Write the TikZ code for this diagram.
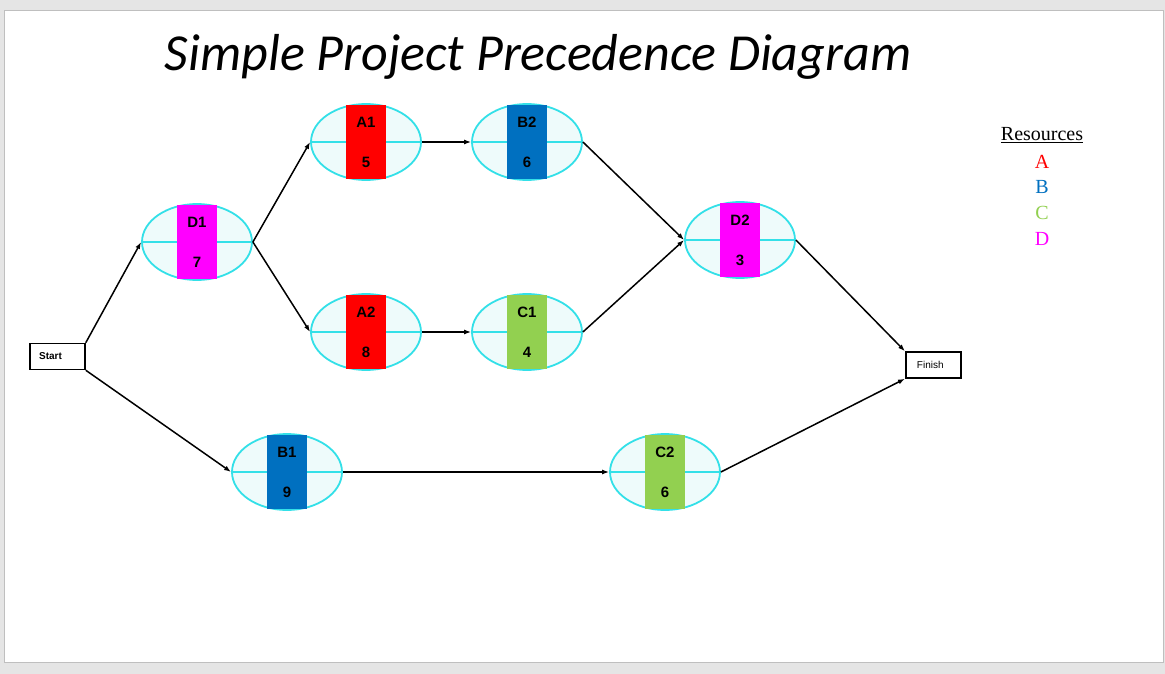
\documentclass[tikz,border=0pt]{standalone}
\usepackage{fontspec}
\setmainfont{Liberation Serif}
\newfontfamily\arialf{Liberation Sans}
\newfontfamily\titlef{Carlito}
\usetikzlibrary{shapes.geometric,arrows.meta}
\definecolor{rA}{HTML}{FF0000}\definecolor{rB}{HTML}{0070C0}
\definecolor{rC}{HTML}{92D050}\definecolor{rD}{HTML}{FF00FF}
\definecolor{cyanb}{HTML}{33E0E8}\definecolor{azfill}{HTML}{EEFBFB}
\tikzset{
 task/.style={ellipse,draw=cyanb,line width=1.8pt,fill=azfill,minimum width=110pt,minimum height=76pt,inner sep=0pt},
 box/.style={draw,line width=1.5pt,fill=white,minimum width=55pt,minimum height=26pt,inner sep=0pt,font=\arialf\fontsize{10}{11}\selectfont},
 conn/.style={line width=1.5pt,-{Latex[length=7pt,width=5pt]}},
 lbl/.style={font=\arialf\bfseries\fontsize{15}{16}\selectfont}
}
\newcommand{\tasknode}[6]{%
 \node[task] (#1) at (#2,#3) {};
 \draw[cyanb,line width=1.3pt] (#1.west) -- (#1.east);
 \fill[#4] (#2-20,#3-37) rectangle (#2+20,#3+37);
 \node[lbl] (#1t) at (#2,#3-20) {#5};
 \node[lbl] (#1n) at (#2,#3+20) {#6};
}
\begin{document}
\begin{tikzpicture}[x=1pt,y=-1pt]
\fill[gray!20] (0,0) rectangle (1165,674);
\fill[white,draw=gray!50] (4,10) rectangle (1163,662);
\node (title) at (538,57) {\titlef\itshape\fontsize{52}{56}\selectfont Simple Project Precedence Diagram};
\tasknode{D1}{197}{242}{rD}{D1}{7}
\tasknode{A1}{366}{142}{rA}{A1}{5}
\tasknode{B2}{527}{142}{rB}{B2}{6}
\tasknode{A2}{366}{332}{rA}{A2}{8}
\tasknode{C1}{527}{332}{rC}{C1}{4}
\tasknode{D2}{740}{240}{rD}{D2}{3}
\tasknode{B1}{287}{472}{rB}{B1}{9}
\tasknode{C2}{665}{472}{rC}{C2}{6}
\node[box,font=\arialf\bfseries\fontsize{10}{11}\selectfont] (start) at (57.5,356.5) {\hspace{-14pt}Start};
\node[box,anchor=west] (finish) at (905,365) {\hspace{-6pt}Finish\hspace{16pt}};
\draw[conn] (start.north east) -- (D1.west);
\draw[conn] (start.south east) -- (B1.west);
\draw[conn] (D1.east) -- (A1.west);
\draw[conn] (D1.east) -- (A2.west);
\draw[conn] (A1.east) -- (B2.west);
\draw[conn] (A2.east) -- (C1.west);
\draw[conn] (B2.east) -- (D2.west);
\draw[conn] (C1.east) -- (D2.west);
\draw[conn] (D2.east) -- (finish.north west);
\draw[conn] (B1.east) -- (C2.west);
\draw[conn] (C2.east) -- (finish.south west);
\node (res) at (1042,135) {\fontsize{20}{22}\selectfont\underline{Resources}};
\node[rA] (rA) at (1042,162) {\fontsize{20}{22}\selectfont A};
\node[rB] (rB) at (1042,187) {\fontsize{20}{22}\selectfont B};
\node[rC] (rC) at (1042,213) {\fontsize{20}{22}\selectfont C};
\node[rD] (rD) at (1042,239) {\fontsize{20}{22}\selectfont D};
\end{tikzpicture}
\end{document}
